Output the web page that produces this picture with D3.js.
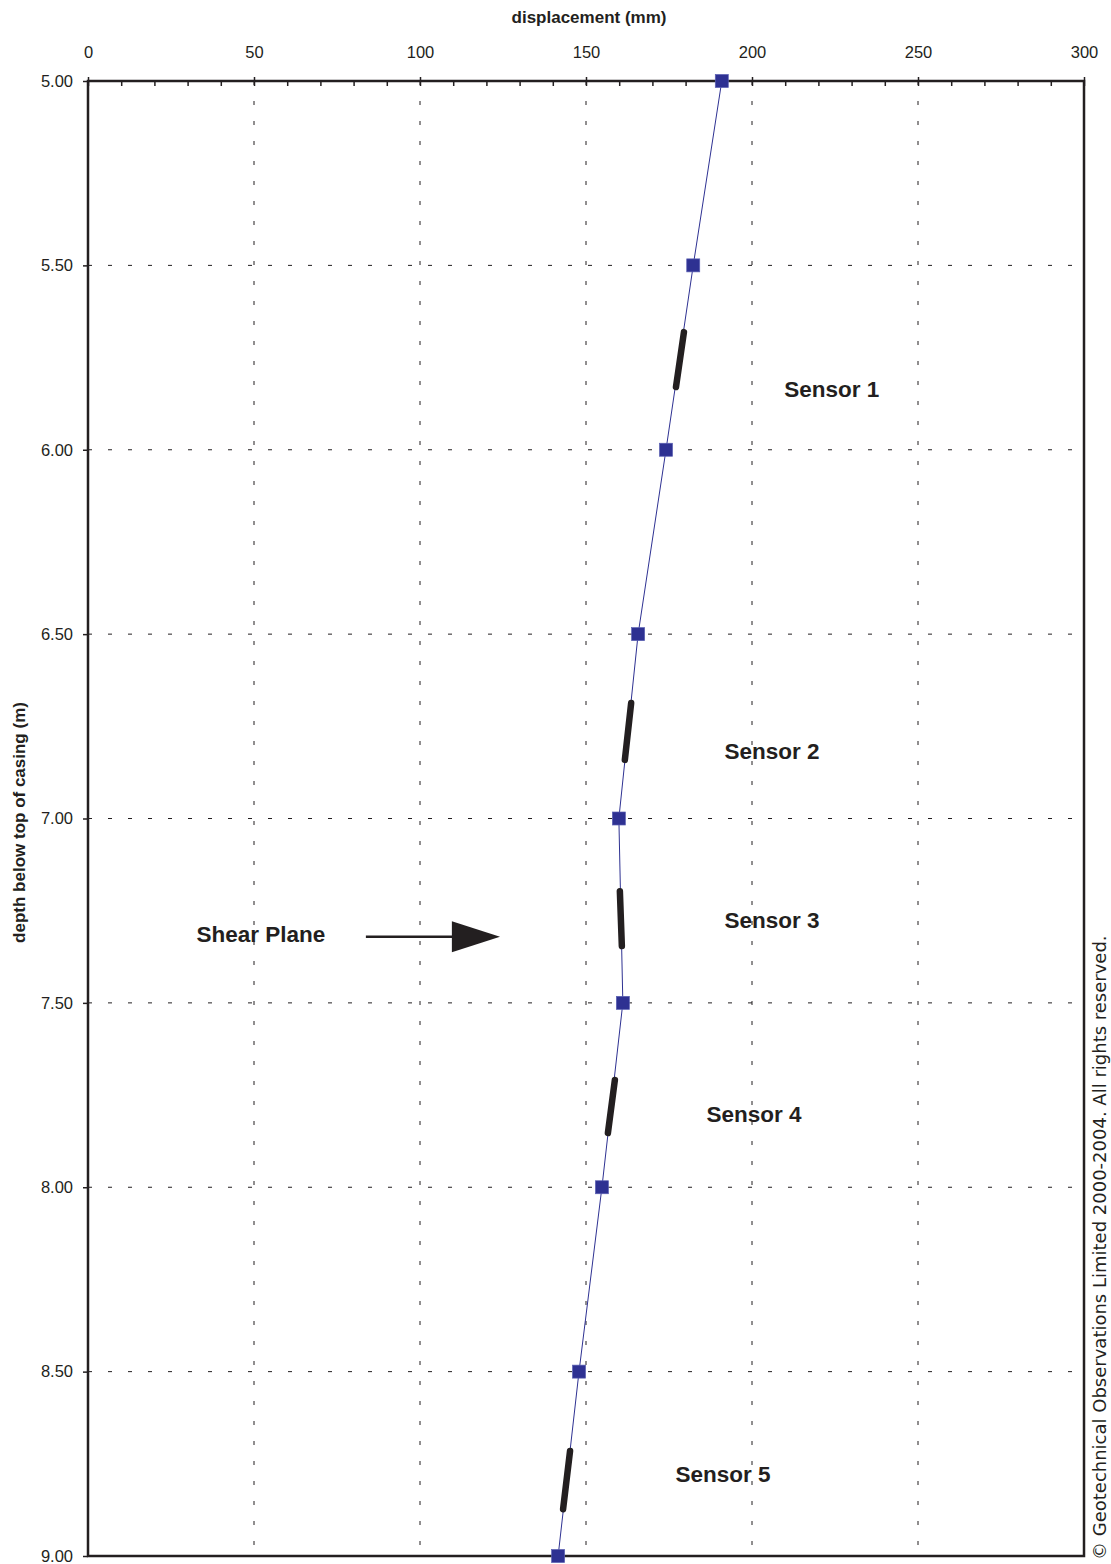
<!DOCTYPE html>
<html>
<head>
<meta charset="utf-8">
<script src="https://cdn.jsdelivr.net/npm/d3@7"></script>
<style>
  body { margin: 0; background: #fff; }
  svg { display: block; }
</style>
</head>
<body>
<script>
// readings: depth below top of casing (m) and displacement (mm)
let depths = [5.0, 5.5, 6.0, 6.5, 7.0, 7.5, 8.0, 8.5, 9.0];
let displacement = [190.9, 182.3, 174.1, 165.7, 159.9, 161.1, 154.8, 147.9, 141.6];

// sensor positions along the casing
let sensorNames = ['Sensor 1', 'Sensor 2', 'Sensor 3', 'Sensor 4', 'Sensor 5'];
let sensorTopDepth = [5.681, 6.687, 7.197, 7.709, 8.715];
let sensorBotDepth = [5.830, 6.841, 7.346, 7.853, 8.873];
let sensorTopDisp = [179.5, 163.6, 160.2, 158.7, 145.2];
let sensorBotDisp = [177.1, 161.7, 160.8, 156.6, 143.1];
let labelDisp = [224, 206, 206, 200.6, 191.3];
let labelDepth = [5.835, 6.817, 7.275, 7.80, 8.778];

// shear plane annotation
let shearText = 'Shear Plane';
let shearLabel = {disp: 52.1, depth: 7.313};
let shearArrow = {from: 83.7, base: 109.6, tip: 124.1, depth: 7.321};

let xTicks = [0, 50, 100, 150, 200, 250, 300];
let xMinor = d3.range(0, 301, 10);
let yTicks = [5.0, 5.5, 6.0, 6.5, 7.0, 7.5, 8.0, 8.5, 9.0];

let width = 1111,
    height = 1564,
    padLeft = 88,
    padTop = 81,
    w = 996,   // plot width
    h = 1475;  // plot height
let ink = '#231f20';
let font = '"Liberation Sans", Arial, Helvetica, sans-serif';

let svg = d3.select('body')
    .append('svg')
    .attr('width', width)
    .attr('height', height)
    .style('font-family', font);

let x = d3.scaleLinear().domain([0, 300]).range([0, w]);
let y = d3.scaleLinear().domain([5, 9]).range([0, h]);

let g = svg.append('g').attr('transform', `translate(${padLeft},${padTop})`);

// dotted grid
g.selectAll('line.vgrid')
    .data(xTicks.slice(1, -1))
    .enter()
    .append('line')
    .attr('class', 'vgrid')
    .attr('x1', d => x(d)).attr('x2', d => x(d))
    .attr('y1', 0).attr('y2', h)
    .attr('stroke', ink)
    .attr('stroke-width', 1)
    .attr('stroke-dasharray', '4,16');

g.selectAll('line.hgrid')
    .data(yTicks.slice(1, -1))
    .enter()
    .append('line')
    .attr('class', 'hgrid')
    .attr('x1', 0).attr('x2', w)
    .attr('y1', d => y(d)).attr('y2', d => y(d))
    .attr('stroke', ink)
    .attr('stroke-width', 1)
    .attr('stroke-dasharray', '4,16');

// frame
g.append('rect')
    .attr('x', 0).attr('y', 0)
    .attr('width', w).attr('height', h)
    .attr('fill', 'none')
    .attr('stroke', ink)
    .attr('stroke-width', 2.5);

// top axis (major ticks outward, all ticks inward)
let axisX = d3.axisTop(x).tickValues(xTicks).tickSize(4).tickPadding(19).tickFormat(d3.format('d'));
let gx = g.append('g').call(axisX);
let axisXIn = d3.axisBottom(x).tickValues(xMinor).tickSize(5).tickFormat('');
let gxi = g.append('g').call(axisXIn);

let axisY = d3.axisLeft(y).tickValues(yTicks).tickSize(5).tickPadding(10).tickFormat(d3.format('.2f'));
let gy = g.append('g').call(axisY);

[gx, gxi, gy].forEach(a => {
    a.select('.domain').remove();
    a.selectAll('line').attr('stroke', ink).attr('stroke-width', 1.5);
    a.selectAll('text')
        .attr('fill', ink)
        .style('font-family', font)
        .style('font-size', '16.5px');
});

// axis titles
svg.append('text')
    .attr('x', padLeft + w / 2 + 3)
    .attr('y', 23)
    .attr('text-anchor', 'middle')
    .attr('fill', ink)
    .style('font-size', '17px')
    .style('font-weight', 'bold')
    .text('displacement (mm)');

svg.append('text')
    .attr('transform', `translate(25,${padTop + h / 2 + 4}) rotate(-90)`)
    .attr('text-anchor', 'middle')
    .attr('fill', ink)
    .style('font-size', '17px')
    .style('font-weight', 'bold')
    .text('depth below top of casing (m)');

// displacement profile
let data = depths.map((d, i) => ({depth: d, disp: displacement[i]}));
let line = d3.line()
    .x(d => x(d.disp))
    .y(d => y(d.depth));

g.append('path')
    .datum(data)
    .attr('d', line)
    .attr('fill', 'none')
    .attr('stroke', '#2e3192')
    .attr('stroke-width', 1);

// sensors
let sensors = sensorNames.map((n, i) => ({
    name: n,
    d1: sensorTopDepth[i], d2: sensorBotDepth[i],
    x1: sensorTopDisp[i], x2: sensorBotDisp[i],
    lx: labelDisp[i], ly: labelDepth[i]
}));

g.selectAll('line.sensor')
    .data(sensors)
    .enter()
    .append('line')
    .attr('class', 'sensor')
    .attr('x1', d => x(d.x1)).attr('y1', d => y(d.d1))
    .attr('x2', d => x(d.x2)).attr('y2', d => y(d.d2))
    .attr('stroke', ink)
    .attr('stroke-width', 6.5)
    .attr('stroke-linecap', 'round');

g.selectAll('text.sensor')
    .data(sensors)
    .enter()
    .append('text')
    .attr('class', 'sensor')
    .attr('x', d => x(d.lx))
    .attr('y', d => y(d.ly))
    .attr('dy', '0.36em')
    .attr('text-anchor', 'middle')
    .attr('fill', ink)
    .style('font-size', '22.5px')
    .style('font-weight', 'bold')
    .text(d => d.name);

// markers
let ms = 13;
g.selectAll('rect.pt')
    .data(data)
    .enter()
    .append('rect')
    .attr('class', 'pt')
    .attr('x', d => x(d.disp) - ms / 2)
    .attr('y', d => y(d.depth) - ms / 2)
    .attr('width', ms)
    .attr('height', ms)
    .attr('fill', '#2e3192')
    .attr('stroke', '#5b60b3')
    .attr('stroke-width', 0.7);

// shear plane arrow
g.append('text')
    .attr('x', x(shearLabel.disp))
    .attr('y', y(shearLabel.depth))
    .attr('dy', '0.36em')
    .attr('text-anchor', 'middle')
    .attr('fill', ink)
    .style('font-size', '22.5px')
    .style('font-weight', 'bold')
    .text(shearText);

let ay = y(shearArrow.depth);
g.append('line')
    .attr('x1', x(shearArrow.from)).attr('x2', x(shearArrow.base) + 2)
    .attr('y1', ay).attr('y2', ay)
    .attr('stroke', ink)
    .attr('stroke-width', 2.5);
g.append('path')
    .attr('d', `M${x(shearArrow.base)},${ay - 15.5}L${x(shearArrow.tip)},${ay}L${x(shearArrow.base)},${ay + 15.5}Z`)
    .attr('fill', ink);

// copyright
svg.append('text')
    .attr('transform', `translate(1106,1560) rotate(-90)`)
    .attr('fill', ink)
    .style('font-family', '"DejaVu Sans", Verdana, sans-serif')
    .style('font-size', '18px')
    .text('\u00a9 Geotechnical Observations Limited 2000-2004. All rights reserved.');
</script>
</body>
</html>
